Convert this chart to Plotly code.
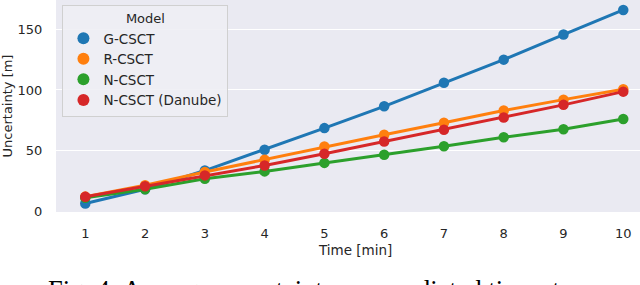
import plotly.graph_objects as go

times = [1, 2, 3, 4, 5, 6, 7, 8, 9, 10]
g_csct = [6.3, 18.0, 33.5, 50.7, 68.5, 86.5, 106.0, 125.0, 145.7, 166.0]
r_csct = [12.0, 21.3, 32.3, 42.5, 53.3, 63.0, 73.0, 83.0, 92.0, 100.5]
n_csct = [11.0, 18.0, 26.8, 32.8, 39.8, 46.5, 53.5, 61.0, 67.5, 76.0]
n_danube = [11.8, 20.5, 29.5, 37.7, 47.3, 57.5, 67.2, 77.3, 87.7, 98.6]

names = ["G-CSCT", "R-CSCT", "N-CSCT", "N-CSCT (Danube)"]
series = [g_csct, r_csct, n_csct, n_danube]
colors = ["#1f77b4", "#ff7f0e", "#2ca02c", "#d62728"]
y_ticks = [0, 50, 100, 150]

fig = go.Figure()
for name, vals, c in zip(names, series, colors):
    fig.add_trace(go.Scatter(x=times, y=vals, mode="lines+markers", name=name,
                             line=dict(color=c, width=3),
                             marker=dict(color=c, size=10.5), showlegend=False))
for name, c in zip(names, colors):
    fig.add_trace(go.Scatter(x=[None], y=[None], mode="markers", name=name,
                             marker=dict(color=c, size=12)))

font = "DejaVu Sans, sans-serif"
fig.update_layout(
    width=640, height=285,
    margin=dict(l=56, r=0, t=0, b=73),
    plot_bgcolor="#EAEAF2", paper_bgcolor="white",
    font=dict(family=font, size=13, color="#262626"),
    xaxis=dict(range=[0.51, 10.28], tickvals=times, showgrid=False, zeroline=False,
               automargin=False,
               ticks="outside", ticklen=0, ticklabelstandoff=9, tickfont=dict(size=13)),
    yaxis=dict(range=[-0.7, 174.2], tickvals=y_ticks, showgrid=True, gridcolor="white",
               gridwidth=1.2, zeroline=False, ticks="outside", ticklen=0,
               automargin=False,
               ticklabelstandoff=10, tickfont=dict(size=13),
               title=dict(text="Uncertainty [m]", font=dict(size=13), standoff=7)),
    legend=dict(x=0.011, y=0.976, xanchor="left", yanchor="top",
                bgcolor="rgba(238,238,244,0.9)", bordercolor="#D0D0D0", borderwidth=1,
                title=dict(text="Model", side="top center", font=dict(size=13)),
                font=dict(size=13.5), itemwidth=30, tracegroupgap=0),
    annotations=[
        dict(text="Time [min]", xref="paper", yref="paper", x=0.512, y=-0.18,
             xanchor="center", yanchor="middle", showarrow=False, font=dict(size=13.5)),
        dict(text="Fig. 4: Average uncertainty per predicted time step.", xref="paper",
             yref="paper", x=(46 - 56) / 584, y=-0.288, xanchor="left", yanchor="top",
             showarrow=False, font=dict(family="Liberation Serif, serif", size=26.5,
                                          color="black")),
    ],
)
fig.write_html("out.html", config={"displayModeBar": False},
               post_script="document.body.style.margin='0';")
